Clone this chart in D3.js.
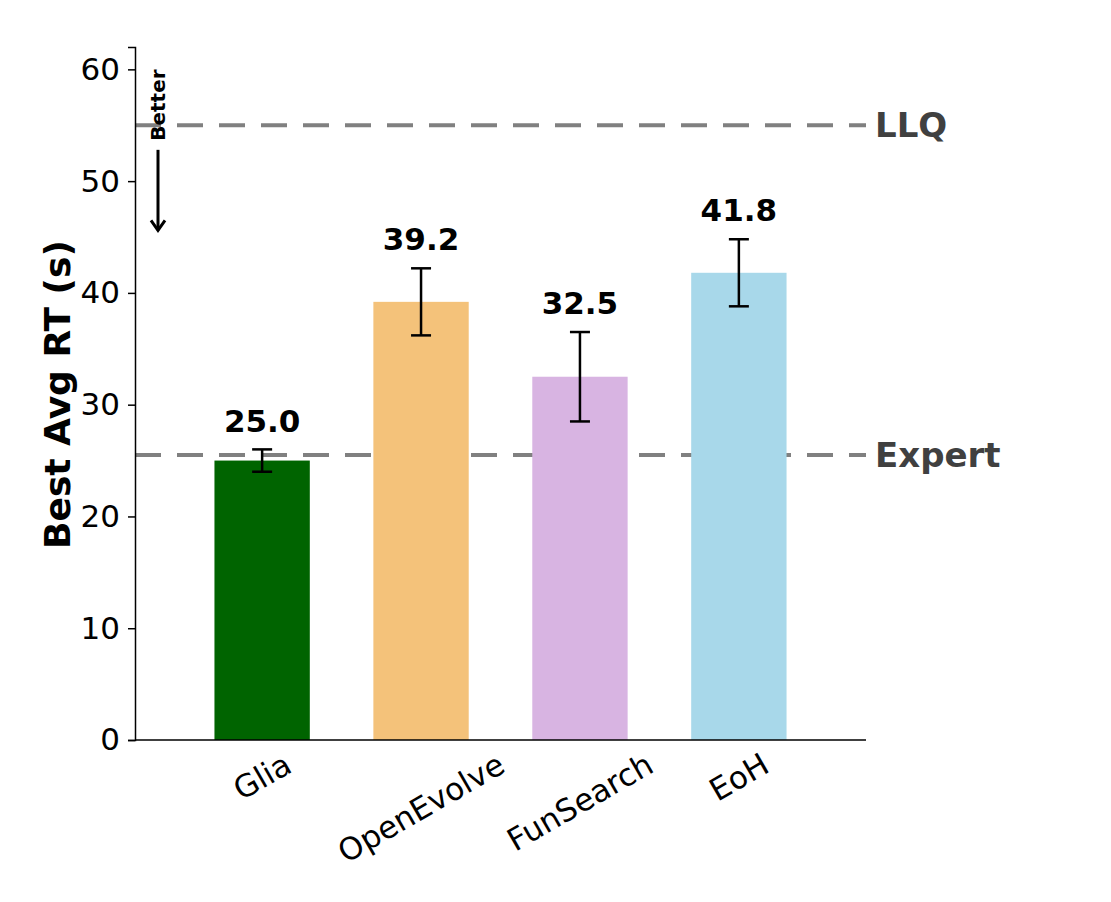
<!DOCTYPE html>
<html>
<head>
<meta charset="utf-8">
<script src="https://cdn.jsdelivr.net/npm/d3@7"></script>
<style>
  body { margin: 0; background: #fff; }
  text { font-family: "DejaVu Sans", sans-serif; }
</style>
</head>
<body>
<div id="chart"></div>
<script>
// values
const methods = ["Glia", "OpenEvolve", "FunSearch", "EoH"];
const avgRT = [25.0, 39.2, 32.5, 41.8];
const errRT = [1.0, 3.0, 4.0, 3.0];
const barColors = ["#006400", "#F4C27A", "#D8B4E2", "#A8D8EA"];
const yTicks = [0, 10, 20, 30, 40, 50, 60];
const refNames = ["LLQ", "Expert"];
const refValues = [55, 25.5];

const width = 1111, height = 902;
const plotLeft = 135, plotRight = 866, plotTop = 47, plotBottom = 740;

const svg = d3.select("#chart").append("svg")
  .attr("width", width).attr("height", height);

// categories sit at 0..3, xlim -0.8..3.8
const x = d3.scaleLinear().domain([-0.8, 3.8]).range([plotLeft, plotRight]);
const y = d3.scaleLinear().domain([0, 62]).range([plotBottom, plotTop]);
const barW = x(0.6) - x(0);

// reference lines (behind bars)
svg.selectAll("line.ref")
  .data(refValues)
  .enter().append("line")
  .attr("class", "ref")
  .attr("x1", plotLeft).attr("x2", plotRight)
  .attr("y1", d => y(d)).attr("y2", d => y(d))
  .attr("stroke", "#808080")
  .attr("stroke-width", 4)
  .attr("stroke-dasharray", "26,16");

svg.selectAll("text.ref")
  .data(refNames)
  .enter().append("text")
  .attr("class", "ref")
  .attr("x", plotRight + 9)
  .attr("y", (d, i) => y(refValues[i]))
  .attr("dy", "0.36em")
  .attr("font-size", 34)
  .attr("font-weight", "bold")
  .attr("fill", "#404040")
  .text(d => d);

// bars
svg.selectAll("rect.bar")
  .data(avgRT)
  .enter().append("rect")
  .attr("class", "bar")
  .attr("x", (d, i) => x(i) - barW / 2)
  .attr("y", d => y(d))
  .attr("width", barW)
  .attr("height", d => y(0) - y(d))
  .attr("fill", (d, i) => barColors[i]);

// error bars
const capW = 10;
const eb = svg.selectAll("g.err")
  .data(avgRT)
  .enter().append("g")
  .attr("class", "err")
  .attr("stroke", "#000")
  .attr("stroke-width", 2.5);
eb.append("line")
  .attr("x1", (d, i) => x(i)).attr("x2", (d, i) => x(i))
  .attr("y1", (d, i) => y(d - errRT[i])).attr("y2", (d, i) => y(d + errRT[i]));
eb.append("line")
  .attr("x1", (d, i) => x(i) - capW).attr("x2", (d, i) => x(i) + capW)
  .attr("y1", (d, i) => y(d - errRT[i])).attr("y2", (d, i) => y(d - errRT[i]));
eb.append("line")
  .attr("x1", (d, i) => x(i) - capW).attr("x2", (d, i) => x(i) + capW)
  .attr("y1", (d, i) => y(d + errRT[i])).attr("y2", (d, i) => y(d + errRT[i]));

// value labels
svg.selectAll("text.val")
  .data(avgRT)
  .enter().append("text")
  .attr("class", "val")
  .attr("x", (d, i) => x(i))
  .attr("y", (d, i) => y(d + errRT[i] + 1.6))
  .attr("text-anchor", "middle")
  .attr("font-size", 31)
  .attr("font-weight", "bold")
  .text(d => d.toFixed(1));

// y axis
const yAxis = svg.append("g")
  .attr("transform", `translate(${plotLeft},0)`)
  .call(d3.axisLeft(y).tickValues(yTicks).tickSize(7).tickPadding(8));
yAxis.select(".domain").attr("stroke", "#000").attr("stroke-width", 1.5);
yAxis.selectAll(".tick line").attr("stroke", "#000").attr("stroke-width", 1.5);
yAxis.selectAll(".tick text")
  .attr("font-size", 31)
  .attr("font-family", "DejaVu Sans, sans-serif")
  .attr("fill", "#000");

// x axis line
svg.append("line")
  .attr("x1", plotLeft).attr("x2", plotRight)
  .attr("y1", plotBottom).attr("y2", plotBottom)
  .attr("stroke", "#000").attr("stroke-width", 1.5);

// x tick labels, rotated 30deg, centred on the category
const xl = svg.selectAll("text.xl")
  .data(methods)
  .enter().append("text")
  .attr("class", "xl")
  .attr("font-size", 31)
  .attr("text-anchor", "middle")
  .attr("dominant-baseline", "central")
  .text(d => d);
xl.each(function(d, i) {
  const w = this.getComputedTextLength();
  const h = 31 * 1.0;
  const H = w * 0.5 + h * 0.866;
  d3.select(this).attr("transform",
    `translate(${x(i)},${plotBottom + 8 + H / 2}) rotate(-30)`);
});

// y label
svg.append("text")
  .attr("transform", `translate(70,${(plotTop + plotBottom) / 2 + 1}) rotate(-90)`)
  .attr("text-anchor", "middle")
  .attr("font-size", 36)
  .attr("font-weight", "bold")
  .text("Best Avg RT (s)");

// "Better" hint with arrow
const hx = plotLeft + 23;
svg.append("text")
  .attr("transform", `translate(${hx + 7},${y(56.8)}) rotate(-90)`)
  .attr("text-anchor", "middle")
  .attr("font-size", 20)
  .attr("font-weight", "bold")
  .text("Better");
svg.append("line")
  .attr("x1", hx).attr("x2", hx)
  .attr("y1", y(52.8)).attr("y2", y(45.6))
  .attr("stroke", "#000").attr("stroke-width", 3);
svg.append("path")
  .attr("d", `M${hx - 7},${y(45.6) - 10} L${hx},${y(45.6)} L${hx + 7},${y(45.6) - 10}`)
  .attr("fill", "none")
  .attr("stroke", "#000").attr("stroke-width", 3)
  .attr("stroke-linejoin", "miter");
</script>
</body>
</html>
